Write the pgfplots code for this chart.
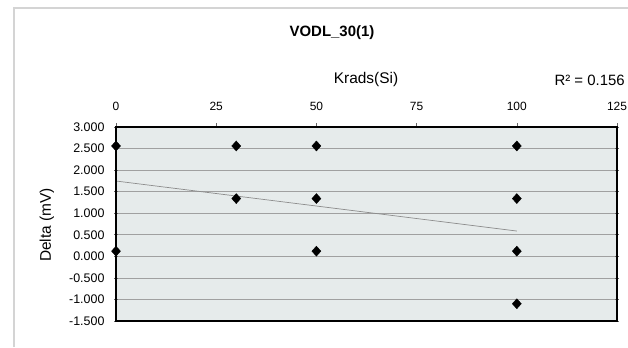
\documentclass[border=0pt]{standalone}
\usepackage{pgfplots}
\pgfplotsset{compat=1.18}
\usepackage{fontspec}
\setmainfont{Liberation Sans}
\definecolor{plotbg}{HTML}{E6EBEB}
\definecolor{gridc}{HTML}{A0A0A0}
\definecolor{framec}{HTML}{D4D4D4}
\begin{document}
\begin{tikzpicture}[x=1bp,y=1bp]
\useasboundingbox (0,0) rectangle (628,347);
\draw[framec, line width=1.5bp] (14,0) -- (14,339) -- (640,339);
\begin{axis}[
  at={(116bp,26bp)}, anchor=south west,
  scale only axis, width=501bp, height=194bp,
  xmin=0, xmax=125, ymin=-1.5, ymax=3,
  xtick={0,25,50,75,100,125},
  ytick={-1.5,-1,-0.5,0,0.5,1,1.5,2,2.5,3},
  axis x line*=top,
  axis line style={black, line width=1.2bp},
  axis background/.style={fill=plotbg},
  ymajorgrids, major grid style={gridc, line width=0.7bp},
  x tick style={black!60, line width=0.6bp},
  y tick style={black!60, line width=0.6bp},
  xtick align=outside, ytick align=center,
  major tick length=4bp,
  xticklabel style={font=\fontsize{12}{13}\selectfont, yshift=9bp},
  yticklabel style={font=\fontsize{12.5}{14}\selectfont, xshift=-6bp},
  /pgf/number format/assume math mode=true,
  y tick label style={/pgf/number format/.cd, fixed, fixed zerofill, precision=3},
  clip=false,
]
\addplot[only marks, mark=diamond*, mark size=5bp, mark options={xscale=1.2}, black] coordinates {
  (0,2.56) (0,0.12)
  (30,2.56) (30,1.34)
  (50,2.56) (50,1.34) (50,0.12)
  (100,2.56) (100,1.34) (100,0.12) (100,-1.10)
};
\addplot[no marks, color=black!45, line width=0.7bp] coordinates {(0,1.747) (100,0.587)};
\end{axis}
\draw[black, line width=1.2bp] (116,26) rectangle (617,220);
\node[font=\bfseries\fontsize{15}{17}\selectfont] at (332,314) {VODL\_30(1)};
\node[font=\fontsize{15.5}{17}\selectfont] at (366,267) {Krads(Si)};
\node[font=\fontsize{15}{17}\selectfont, anchor=west] at (551,267) {R² = 0.156};
\node[font=\fontsize{15.5}{17}\selectfont, rotate=90] at (47,122) {Delta (mV)};
\end{tikzpicture}
\end{document}
